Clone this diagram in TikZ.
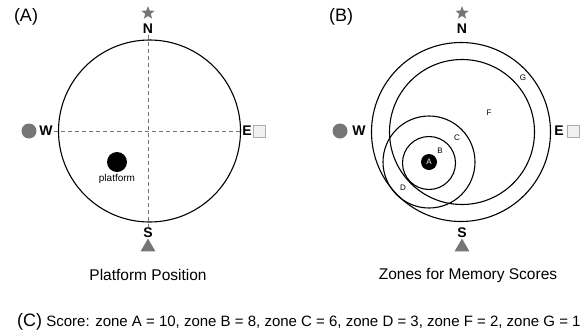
\documentclass[tikz,border=0pt]{standalone}
\usepackage{fontspec}
\setmainfont{Liberation Sans}
\usetikzlibrary{shapes.geometric}
\definecolor{MarkGrey}{RGB}{118,118,118}
\definecolor{BoxGrey}{RGB}{240,240,240}

\begin{document}
\begin{tikzpicture}[x=1pt,y=-1pt,
  dirlabel/.style={font=\fontsize{14}{16}\selectfont\bfseries,inner sep=1pt},
  paneltag/.style={font=\fontsize{18}{20}\selectfont,inner sep=0pt},
  caption/.style={font=\fontsize{15.5}{18}\selectfont,inner sep=0pt},
  zonelabel/.style={font=\fontsize{8}{9}\selectfont,inner sep=0pt},
  starmark/.style={star,star points=5,star point ratio=2.4,fill=MarkGrey,inner sep=0pt,minimum size=14pt},
  trimark/.style={regular polygon,regular polygon sides=3,fill=MarkGrey,inner sep=0pt,minimum size=17pt},
  dotmark/.style={circle,fill=MarkGrey,inner sep=0pt,minimum size=15pt},
  boxmark/.style={rectangle,draw=MarkGrey!60,fill=BoxGrey,inner sep=0pt,minimum size=12pt},
  pool/.style={line width=1.1pt},
  cross/.style={MarkGrey,line width=0.7pt,dash pattern=on 4pt off 3pt}]
\useasboundingbox (0,0) rectangle (583,335);

% panel A
\node[paneltag] (tagA) at (26,17) {(A)};
\draw[pool] (149.5,131) circle (91);
\node[starmark] (starA) at (148,13) {};
\node[dirlabel] (nA) at (148,29) {N};
\node[dirlabel] (sA) at (148,233) {S};
\node[trimark] (triA) at (148,247) {};
\node[dirlabel] (wA) at (46,131) {W};
\node[dotmark] (dotA) at (29,131) {};
\node[dirlabel] (eA) at (247,131) {E};
\node[boxmark] (boxA) at (259,131) {};
\draw[cross] (nA) -- (sA);
\draw[cross] (wA) -- (eA);
\node[circle,fill=black,inner sep=0pt,minimum size=20pt] (plat) at (117,162) {};
\node[font=\fontsize{10}{11}\selectfont,inner sep=0pt] (platlab) at (117,179) {platform};
\node[caption] (capA) at (148,275) {Platform Position};

% panel B
\node[paneltag] (tagB) at (341,17) {(B)};
\draw[pool] (461,132) circle (89.5);
\draw[pool] (462,132) circle (72.5);
\draw[pool] (429,162) circle (46);
\draw[pool] (429,163) circle (26.5);
\node[starmark] (starB) at (462,13) {};
\node[dirlabel] (nB) at (462,29) {N};
\node[dirlabel] (sB) at (462,233) {S};
\node[trimark] (triB) at (462,247) {};
\node[dirlabel] (wB) at (359,131) {W};
\node[dotmark] (dotB) at (340,131) {};
\node[dirlabel] (eB) at (559,131) {E};
\node[boxmark] (boxB) at (573,131) {};
\node[circle,fill=black,inner sep=0pt,minimum size=16pt,text=white,font=\fontsize{8}{9}\selectfont] (zA) at (429,162) {A};
\node[zonelabel] (zB) at (440,151) {B};
\node[zonelabel] (zC) at (457,138) {C};
\node[zonelabel] (zD) at (403,188) {D};
\node[zonelabel] (zF) at (489,113) {F};
\node[zonelabel] (zG) at (523,78) {G};
\node[caption] (capB) at (468,275) {Zones for Memory Scores};

% panel C
\node[anchor=base west,inner sep=0pt,font=\fontsize{15}{17}\selectfont] (scores) at (17,326)
  {{\fontsize{18}{20}\selectfont(C)} Score: zone A = 10, zone B = 8, zone C = 6, zone D = 3, zone F = 2, zone G = 1};
\end{tikzpicture}
\end{document}
